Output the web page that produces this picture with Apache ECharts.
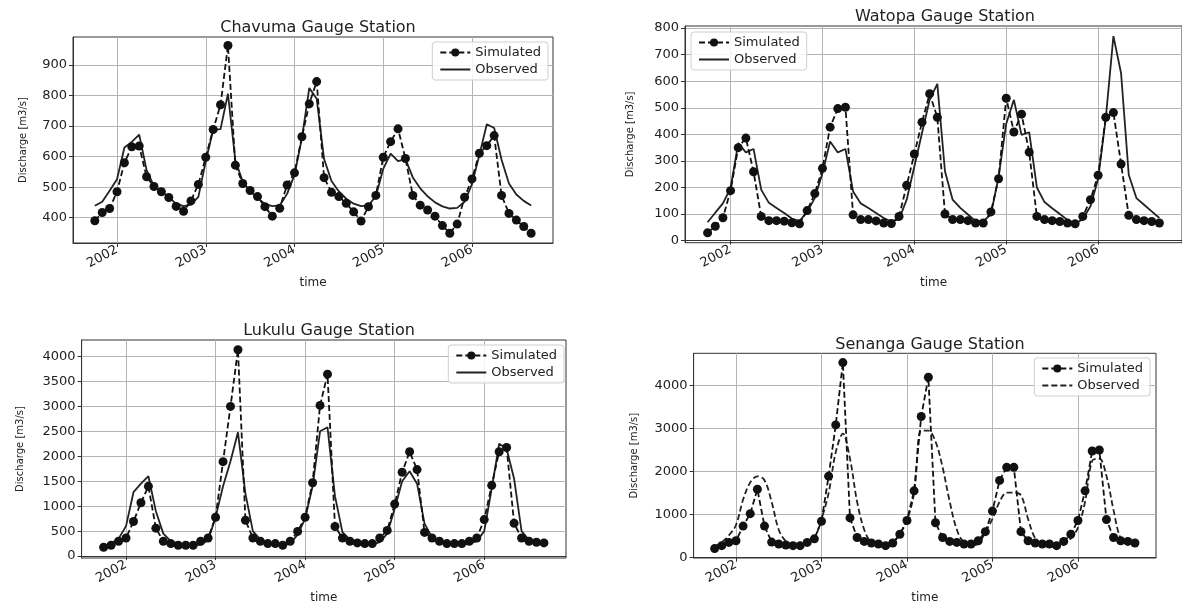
<!DOCTYPE html>
<html><head><meta charset="utf-8">
<script src="https://cdn.jsdelivr.net/npm/echarts@6/dist/echarts.min.js"></script>
<style>html,body{margin:0;padding:0;background:#fff}#c{width:1182px;height:605px}</style>
</head><body><div id="c"></div>
<script>
const months = ['2001-10','2001-11','2001-12',
 '2002-01','2002-02','2002-03','2002-04','2002-05','2002-06','2002-07','2002-08','2002-09','2002-10','2002-11','2002-12',
 '2003-01','2003-02','2003-03','2003-04','2003-05','2003-06','2003-07','2003-08','2003-09','2003-10','2003-11','2003-12',
 '2004-01','2004-02','2004-03','2004-04','2004-05','2004-06','2004-07','2004-08','2004-09','2004-10','2004-11','2004-12',
 '2005-01','2005-02','2005-03','2005-04','2005-05','2005-06','2005-07','2005-08','2005-09','2005-10','2005-11','2005-12',
 '2006-01','2006-02','2006-03','2006-04','2006-05','2006-06','2006-07','2006-08','2006-09'];
const yearTicks = [2002, 2003, 2004, 2005, 2006];

const titles = ['Chavuma Gauge Station', 'Watopa Gauge Station', 'Lukulu Gauge Station', 'Senanga Gauge Station'];

const chavumaSim = [390,417,430,485,580,632,635,534,502,485,466,437,421,455,509,598,689,770,964,572,512,489,469,436,405,431,507,547,665,773,846,531,483,469,447,419,389,436,473,598,649,691,594,473,441,425,405,374,349,379,467,527,611,636,669,473,414,392,371,349];
const chavumaObs = [439,452,488,526,630,648,672,556,503,487,466,446,438,443,468,585,688,690,806,588,518,487,464,445,438,440,478,540,660,825,790,592,520,486,462,446,438,440,470,560,610,585,592,532,496,470,450,437,430,432,452,510,605,706,694,590,512,476,455,440];
const watopaSim = [29,54,86,188,350,386,259,91,75,75,73,67,63,113,177,272,427,497,502,97,79,79,74,66,64,91,208,326,446,553,464,100,79,79,75,66,66,108,233,536,409,476,333,91,79,75,72,66,63,91,154,246,464,482,288,95,79,75,72,66];
const watopaObs = [69,105,140,198,367,332,345,192,142,123,104,83,73,108,160,254,373,332,345,185,140,123,104,85,72,80,154,279,405,530,590,261,154,123,98,73,73,98,240,440,530,398,408,200,145,122,100,78,65,80,129,232,460,770,630,248,160,135,110,85];
const lukuluSim = [178,217,297,362,692,1068,1397,560,297,250,217,217,217,297,362,778,1891,2998,4132,718,362,297,250,250,217,297,494,778,1470,3018,3644,593,362,297,264,250,250,362,514,1041,1680,2089,1733,474,362,297,250,250,250,297,362,731,1417,2089,2175,659,362,297,277,264];
const lukuluObs = [200,250,350,600,1280,1450,1600,900,450,300,250,220,210,230,320,780,1400,1900,2480,1250,500,330,270,240,220,250,430,750,1400,2500,2580,1200,480,330,270,240,230,280,450,950,1500,1700,1450,650,380,300,260,240,230,250,300,500,1350,2250,2150,1550,500,320,280,260];
const senangaSim = [212,280,356,394,735,1023,1591,735,364,318,295,280,280,356,439,848,1894,3083,4530,924,470,379,341,318,280,341,545,864,1553,3280,4189,811,470,379,356,318,318,394,606,1083,1795,2098,2098,606,394,341,318,318,280,379,545,864,1553,2477,2500,886,470,394,379,341];
const senangaObs = [260,360,520,760,1350,1750,1890,1800,1300,650,380,290,260,300,450,900,1500,2450,2880,2300,1300,650,350,300,280,350,550,870,1500,2950,2950,2700,2100,1300,650,350,290,320,600,900,1300,1510,1510,1450,900,450,320,290,280,320,450,700,1300,2250,2300,1900,1100,450,370,340];

const yTicks1 = [400,500,600,700,800,900];
const yTicks2 = [0,100,200,300,400,500,600,700,800];
const yTicks3 = [0,500,1000,1500,2000,2500,3000,3500,4000];
const yTicks4 = [0,1000,2000,3000,4000];

function toYear(m){ const p = m.split('-'); return +p[0] + (+p[1]-1)/12; }
const xs = months.map(toYear);
function pairs(vals){ return vals.map((v,i)=>[xs[i], v]); }

const panels = [
  {sim: chavumaSim, obs: chavumaObs, yt: yTicks1, ymin: 317, ymax: 992,
   grid: {left: 73, top: 37, width: 480, height: 206}, obsDashed: false,
   legend: {right: 634, top: 42}, title: {x: 313, y: 15}, nameGap: 45},
  {sim: watopaSim, obs: watopaObs, yt: yTicks2, ymin: -8, ymax: 808,
   grid: {left: 685, top: 26, width: 512, height: 216.7}, obsDashed: false,
   legend: {left: 691, top: 32}, title: {x: 940, y: 4}, nameGap: 50},
  {sim: lukuluSim, obs: lukuluObs, yt: yTicks3, ymin: -38, ymax: 4328,
   grid: {left: 81.6, top: 340, width: 484.4, height: 218.3}, obsDashed: false,
   legend: {right: 618, top: 345}, title: {x: 324, y: 318}, nameGap: 56},
  {sim: senangaSim, obs: senangaObs, yt: yTicks4, ymin: -6, ymax: 4746,
   grid: {left: 693.6, top: 353.3, width: 462.4, height: 208.4}, obsDashed: true,
   legend: {right: 32, top: 358}, title: {x: 925, y: 332}, nameGap: 54}
];

const FONT = 'DejaVu Sans';
const option = {animation: false, backgroundColor: '#fff', title: [], legend: [], grid: [], xAxis: [], yAxis: [], series: []};

panels.forEach((p, k) => {
  option.grid.push(Object.assign({show: true, borderColor: '#333', borderWidth: 1, backgroundColor: 'transparent'}, p.grid));
  option.title.push({text: titles[k], left: p.title.x, top: p.title.y, textAlign: 'center',
    textStyle: {fontFamily: FONT, fontSize: 16, fontWeight: 'normal', color: '#222'}});
  option.xAxis.push({type: 'value', gridIndex: k, min: 2001.504, max: 2006.913,
    name: 'time', nameLocation: 'middle', nameGap: 34,
    nameTextStyle: {fontFamily: FONT, fontSize: 12, color: '#222'},
    axisLine: {show: true, lineStyle: {color: '#333', width: 1}},
    axisTick: {show: true, customValues: yearTicks, length: 4, lineStyle: {color: '#333'}},
    axisLabel: {customValues: yearTicks, rotate: 28, margin: 6, fontFamily: FONT, fontSize: 13, color: '#222',
      formatter: v => String(Math.round(v))},
    splitLine: {show: true, lineStyle: {color: '#b4b4b4', width: 1}}
  });
  option.yAxis.push({type: 'value', gridIndex: k, min: p.ymin, max: p.ymax,
    name: 'Discharge [m3/s]', nameLocation: 'middle', nameGap: p.nameGap, nameRotate: 90,
    nameTextStyle: {fontFamily: FONT, fontSize: 10, color: '#222'},
    axisLine: {show: true, lineStyle: {color: '#333', width: 1}},
    axisTick: {show: true, customValues: p.yt, length: 4, lineStyle: {color: '#333'}},
    axisLabel: {customValues: p.yt, margin: 6, fontFamily: FONT, fontSize: 13, color: '#222',
      formatter: v => String(Math.round(v))},
    splitLine: {show: true, lineStyle: {color: '#b4b4b4', width: 1}}
  });
  const sName = 'Simulated#' + k, oName = 'Observed#' + k;
  option.series.push({name: sName, type: 'line', xAxisIndex: k, yAxisIndex: k, data: pairs(p.sim),
    symbol: 'circle', symbolSize: 9, showSymbol: true,
    itemStyle: {color: '#111'}, lineStyle: {color: '#111', width: 1.8, type: [6, 3]}, z: 3});
  option.series.push({name: oName, type: 'line', xAxisIndex: k, yAxisIndex: k, data: pairs(p.obs),
    symbol: 'none', smooth: p.obsDashed ? 0.35 : false,
    itemStyle: {color: '#222'}, lineStyle: {color: '#222', width: 1.8, type: p.obsDashed ? [6, 3] : 'solid'}, z: 2});
  option.legend.push(Object.assign({
    data: [{name: sName}, {name: oName, itemStyle: {opacity: 0}}],
    orient: 'vertical', itemWidth: 30, itemHeight: 10, itemGap: 4,
    padding: [4, 7, 4, 7], borderColor: '#cfcfcf', borderWidth: 1, borderRadius: 3,
    backgroundColor: 'rgba(255,255,255,0.85)',
    textStyle: {fontFamily: FONT, fontSize: 13, color: '#222'},
    formatter: n => n.split('#')[0]
  }, p.legend));
});

const chart = echarts.init(document.getElementById('c'), null, {renderer: 'canvas'});
chart.setOption(option);
</script>
</body></html>
